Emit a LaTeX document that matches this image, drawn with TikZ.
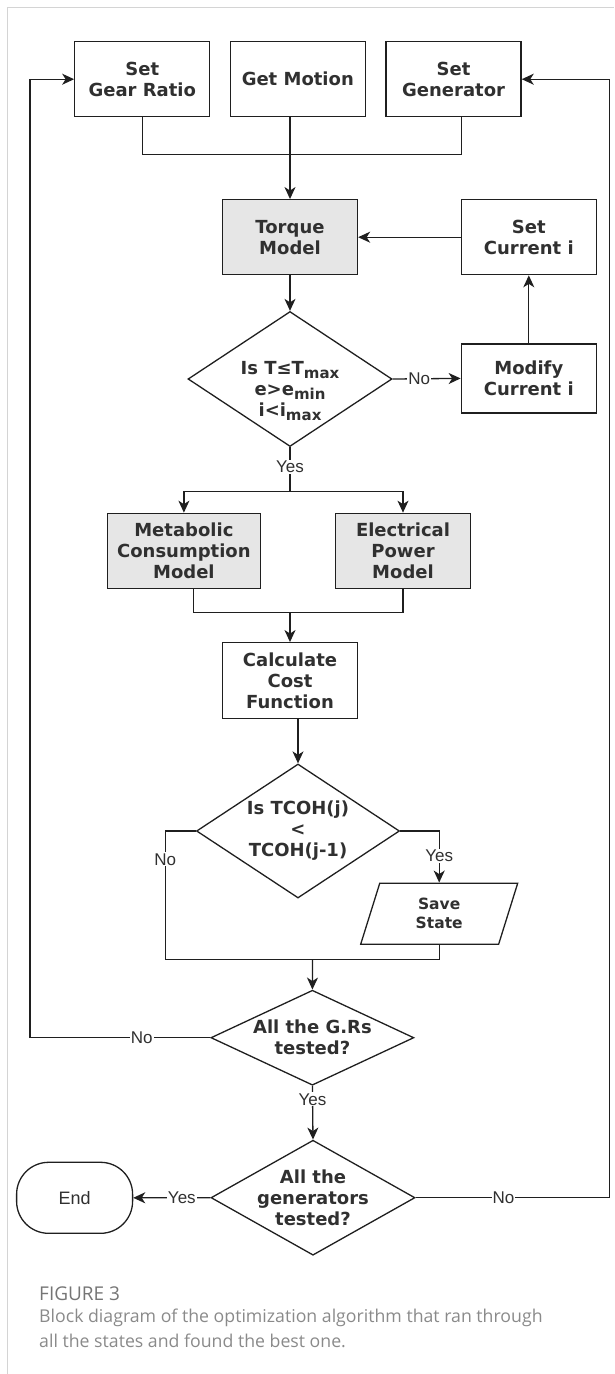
\documentclass[tikz,border=0pt]{standalone}
\usepackage{fontspec}
\setmainfont{DejaVu Sans}
\newfontfamily\lblfont{Liberation Sans}
\newfontfamily\capfont{Open Sans}
\usetikzlibrary {shapes.geometric}
\usetikzlibrary {arrows.meta}

\definecolor{linecol}{HTML}{1F1F1F}
\definecolor{textcol}{HTML}{303030}
\definecolor{boxgray}{HTML}{E6E6E6}
\definecolor{framegray}{HTML}{D4D4D4}
\definecolor{capgray}{HTML}{8A8A8A}

\newcommand{\lo}[1]{\raisebox{-0.35ex}{\fontsize{15}{15}\selectfont #1}}

\begin{document}
\begin{tikzpicture}[x=1pt,y=-1pt,
    box/.style={rectangle,draw=linecol,line width=1.3pt,minimum width=135pt,minimum height=75pt,align=center,text=textcol,font=\bfseries\fontsize{18}{21}\selectfont},
    model/.style={box,fill=boxgray},
    decision/.style={diamond,draw=linecol,line width=1.3pt,inner sep=0pt},
    dtext/.style={align=center,text=textcol,inner sep=0pt,font=\bfseries\fontsize{18}{21}\selectfont},
    lbl/.style={fill=white,inner sep=1pt,text=textcol,font=\lblfont\fontsize{17}{17}\selectfont},
    line/.style={draw=linecol,line width=1.3pt},
    arr/.style={line,arrows = -{Stealth[length=12pt,width=11pt,inset=3.5pt]}}]

            % \draw [help lines] (0,0) grid (614,1374);
            \useasboundingbox (0,0) rectangle (614,1374);
            \draw[framegray,line width=1pt] (7,1374) -- (7,7) -- (614,7);

            \path   (142.3,79.2) node (gear) [box] {Set\\Gear Ratio}
                    (297.8,79.2) node (motion) [box] {Get Motion}
                    (453.6,79.2) node (generator) [box] {Set\\Generator}
                    (290,237.2) node (torque) [model] {Torque\\Model}
                    (528.8,237.2) node (setcur) [box] {Set\\Current i}
                    (290,379) node (check) [decision,minimum width=204pt,minimum height=135pt,
                        label={[dtext,yshift=-12pt]center:{Is T≤T\lo{max}\\e>e\lo{min}\\i<i\lo{max}}}] {}
                    (528.8,378.4) node (modify) [box,minimum height=69pt] {Modify\\Current i}
                    (183.9,550.8) node (metab) [model,minimum width=153pt] {Metabolic\\Consumption\\Model}
                    (403,550.8) node (elec) [model] {Electrical\\Power\\Model}
                    (290,680.5) node (cost) [box,minimum height=75.6pt] {Calculate\\Cost\\Function}
                    (298,831) node (better) [decision,minimum width=203pt,minimum height=134pt,
                        label={[dtext]center:{Is TCOH(j)\\<\\TCOH(j-1)}}] {}
                    (439.2,913.7) node (save) [trapezium,trapezium left angle=63,trapezium right angle=117,
                        trapezium stretches body,draw=linecol,line width=1.3pt,minimum width=157pt,minimum height=61pt,
                        align=center,text=textcol,font=\bfseries\fontsize{15.5}{19}\selectfont] {Save\\State}
                    (312.4,1037.7) node (grs) [decision,minimum width=203pt,minimum height=95pt,
                        label={[dtext]center:{All the G.Rs\\tested?}}] {}
                    (313,1197.7) node (gens) [decision,minimum width=204pt,minimum height=115pt,
                        label={[dtext]center:{All the\\generators\\tested?}}] {}
                    (74.6,1197.8) node (finish) [draw=linecol,line width=1.3pt,rounded corners=32pt,
                        minimum width=116pt,minimum height=71pt,text=textcol,font=\lblfont\fontsize{18}{18}\selectfont] {End};

            \coordinate (join1) at (290,154.3);
            \coordinate (split) at (290,491.7);
            \coordinate (join2) at (290,612.7);
            \coordinate (nocorner) at (165.3,959.3);
            \coordinate (join3) at (312.6,959.3);
            \coordinate (leftrail) at (30,79.2);
            \coordinate (rightrail) at (609.8,79.2);

            \draw[line] (gear.south) |- (join1);
            \draw[line] ([xshift=8pt]generator.south) |- (join1);
            \draw[arr] (motion.south -| torque.north) -- (torque.north);
            \draw[arr] (setcur.west) -- (torque.east);
            \draw[arr] (torque.south) -- (check.north);
            \draw[arr] (check.east) -- node[lbl,pos=0.39] {No} (modify.west);
            \draw[arr] (modify.north) -- (setcur.south);

            \draw[line] (check.south) -- node[lbl,pos=0.45] {Yes} (split);
            \draw[arr] (split) -| (metab.north);
            \draw[arr] (split) -| (elec.north);
            \draw[line] ([xshift=9.6pt]metab.south) |- (join2);
            \draw[line] (elec.south) |- (join2);
            \draw[arr] (join2) -- (cost.north);
            \draw[arr] (cost.south -| better.north) -- (better.north);

            \draw[line] (better.west) -| node[lbl,pos=0.61] {No} (nocorner) -- (join3);
            \draw[arr] (better.east) -| node[lbl,pos=0.74] {Yes} (save.north);
            \draw[line] (save.south) |- (join3);
            \draw[arr] (join3) -- (grs.north);

            \draw[arr] (grs.west) -| node[lbl,pos=0.19] {No} (leftrail) -- (gear.west);
            \draw[arr] (grs.south) -- node[lbl,pos=0.25] {Yes} (gens.north);
            \draw[arr] (gens.west) -- node[lbl,pos=0.37] {Yes} (finish.east);
            \draw[arr] (gens.east) -| node[lbl,pos=0.226] {No} (rightrail) -- (generator.east);

            \node (figno) [anchor=north west,inner sep=0pt,text=capgray!85!black,font=\capfont\fontsize{19}{19}\selectfont] at (39,1287) {FIGURE 3};
            \node (figtext) [anchor=north west,inner sep=0pt,align=left,text=capgray,font=\capfont\fontsize{17.7}{25}\selectfont] at (39,1309)
            {Block diagram of the optimization algorithm that ran through\\all the states and found the best one.};

\end{tikzpicture}
\end{document}
